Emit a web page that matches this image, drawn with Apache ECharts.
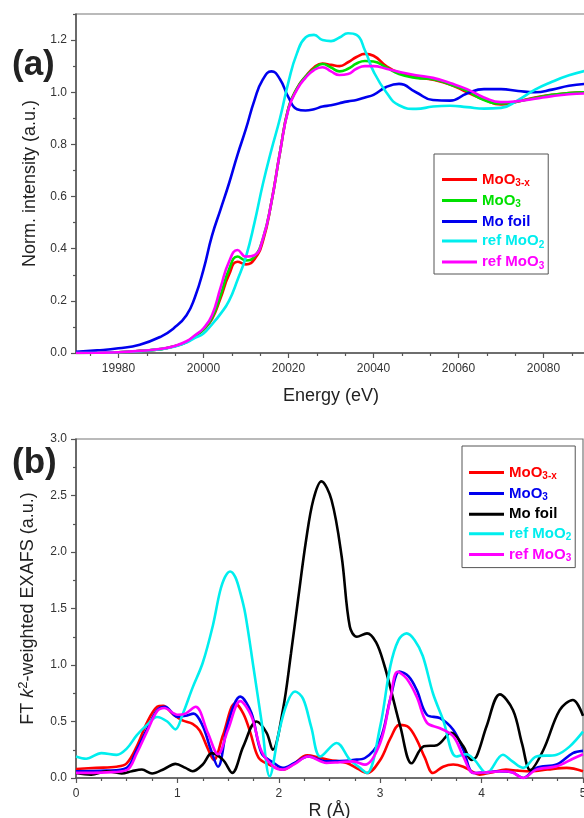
<!DOCTYPE html>
<html>
<head>
<meta charset="utf-8">
<script src="https://cdn.jsdelivr.net/npm/echarts@6/dist/echarts.min.js"></script>
<style>
html, body { margin: 0; padding: 0; background: #fff; }
#chart { width: 584px; height: 818px; }
</style>
</head>
<body>
<div id="chart"></div>
<script>
// ---- (a) XANES, all curves on one energy grid ----
var energy = [19970, 19975, 19980, 19985, 19990, 19993, 19996, 19998, 20000, 20002, 20004, 20006, 20008, 20010, 20012, 20014, 20016, 20018, 20020, 20022, 20024, 20026, 20028, 20030, 20032, 20034, 20036, 20038, 20040, 20043, 20046, 20050, 20054, 20058, 20062, 20066, 20070, 20074, 20078, 20082, 20086, 20090];
var xanesMoO3x = [0.0, 0.001, 0.003, 0.008, 0.015, 0.025, 0.042, 0.065, 0.09, 0.13, 0.21, 0.30, 0.35, 0.34, 0.36, 0.43, 0.58, 0.77, 0.94, 1.015, 1.06, 1.095, 1.11, 1.105, 1.10, 1.115, 1.135, 1.147, 1.14, 1.10, 1.075, 1.058, 1.048, 1.03, 1.00, 0.972, 0.953, 0.965, 0.98, 0.99, 0.997, 1.0];
var xanesMoO3 = [0.0, 0.001, 0.003, 0.008, 0.015, 0.025, 0.042, 0.065, 0.09, 0.135, 0.22, 0.32, 0.37, 0.355, 0.37, 0.44, 0.58, 0.77, 0.94, 1.015, 1.06, 1.09, 1.108, 1.095, 1.08, 1.09, 1.11, 1.12, 1.118, 1.095, 1.07, 1.055, 1.05, 1.03, 1.005, 0.97, 0.957, 0.965, 0.978, 0.99, 0.997, 1.0];
var xanesMoFoil = [0.005, 0.010, 0.018, 0.032, 0.063, 0.095, 0.145, 0.215, 0.32, 0.45, 0.55, 0.65, 0.76, 0.86, 0.97, 1.05, 1.08, 1.05, 0.98, 0.935, 0.930, 0.935, 0.945, 0.950, 0.958, 0.965, 0.970, 0.980, 0.990, 1.020, 1.032, 1.000, 0.970, 0.968, 0.995, 1.012, 1.012, 1.005, 1.000, 1.010, 1.025, 1.032];
var xanesRefMoO2 = [0.0, 0.001, 0.003, 0.007, 0.015, 0.024, 0.04, 0.058, 0.075, 0.11, 0.15, 0.20, 0.28, 0.37, 0.50, 0.65, 0.78, 0.90, 1.04, 1.15, 1.21, 1.22, 1.20, 1.196, 1.21, 1.226, 1.22, 1.16, 1.08, 1.0, 0.95, 0.936, 0.945, 0.948, 0.943, 0.937, 0.94, 0.97, 1.01, 1.04, 1.065, 1.083];
var xanesRefMoO3 = [0.0, 0.001, 0.003, 0.008, 0.016, 0.026, 0.045, 0.068, 0.095, 0.145, 0.25, 0.35, 0.395, 0.37, 0.375, 0.44, 0.58, 0.77, 0.935, 1.01, 1.055, 1.085, 1.096, 1.08, 1.066, 1.07, 1.09, 1.10, 1.10, 1.09, 1.078, 1.065, 1.055, 1.035, 1.012, 0.98, 0.962, 0.966, 0.975, 0.985, 0.992, 0.995];

// ---- (b) FT-EXAFS, each curve read on its own R points ----
var rMoO3x = [0, 0.2, 0.4, 0.5, 0.6, 0.7, 0.8, 0.86, 0.95, 1.05, 1.15, 1.22, 1.3, 1.36, 1.45, 1.57, 1.65, 1.72, 1.8, 1.9, 2.04, 2.14, 2.28, 2.4, 2.5, 2.67, 2.78, 2.87, 3.0, 3.1, 3.19, 3.28, 3.36, 3.44, 3.52, 3.62, 3.72, 3.82, 3.9, 3.98, 4.1, 4.24, 4.36, 4.5, 4.65, 4.84, 5.0];
var ftMoO3x = [0.08, 0.09, 0.10, 0.13, 0.28, 0.49, 0.63, 0.64, 0.57, 0.51, 0.48, 0.42, 0.26, 0.16, 0.38, 0.66, 0.57, 0.40, 0.18, 0.12, 0.074, 0.12, 0.20, 0.18, 0.16, 0.133, 0.08, 0.044, 0.16, 0.35, 0.47, 0.45, 0.34, 0.18, 0.044, 0.10, 0.12, 0.10, 0.06, 0.03, 0.05, 0.074, 0.065, 0.06, 0.075, 0.09, 0.06];
var rMoO3 = [0, 0.3, 0.5, 0.6, 0.7, 0.8, 0.88, 1.0, 1.08, 1.16, 1.25, 1.33, 1.4, 1.5, 1.62, 1.73, 1.83, 1.95, 2.04, 2.15, 2.29, 2.47, 2.6, 2.73, 2.85, 3.0, 3.1, 3.19, 3.28, 3.36, 3.46, 3.59, 3.72, 3.82, 3.92, 4.05, 4.15, 4.3, 4.41, 4.54, 4.74, 4.9, 5.0];
var ftMoO3 = [0.06, 0.065, 0.09, 0.25, 0.43, 0.60, 0.63, 0.54, 0.55, 0.57, 0.46, 0.25, 0.10, 0.49, 0.72, 0.575, 0.22, 0.133, 0.09, 0.13, 0.19, 0.147, 0.15, 0.16, 0.177, 0.34, 0.70, 0.943, 0.90, 0.78, 0.56, 0.53, 0.427, 0.25, 0.044, 0.05, 0.06, 0.05, 0.0, 0.09, 0.12, 0.22, 0.24];
var rMoFoil = [0, 0.15, 0.3, 0.45, 0.55, 0.65, 0.75, 0.87, 0.98, 1.08, 1.15, 1.25, 1.34, 1.45, 1.54, 1.65, 1.78, 1.88, 1.94, 2.04, 2.12, 2.19, 2.27, 2.34, 2.42, 2.52, 2.62, 2.7, 2.77, 2.87, 2.96, 3.04, 3.1, 3.2, 3.31, 3.43, 3.56, 3.7, 3.82, 3.9, 3.95, 4.05, 4.18, 4.31, 4.4, 4.48, 4.61, 4.77, 4.9, 5.0];
var ftMoFoil = [0.045, 0.03, 0.06, 0.04, 0.06, 0.075, 0.04, 0.08, 0.125, 0.09, 0.06, 0.12, 0.22, 0.16, 0.045, 0.28, 0.50, 0.40, 0.25, 0.60, 1.1, 1.58, 2.11, 2.46, 2.625, 2.46, 1.96, 1.34, 1.25, 1.28, 1.2, 1.0, 0.80, 0.45, 0.13, 0.28, 0.29, 0.40, 0.28, 0.16, 0.19, 0.46, 0.74, 0.60, 0.30, 0.07, 0.25, 0.60, 0.69, 0.55];
var rRefMoO2 = [0, 0.1, 0.25, 0.4, 0.5, 0.6, 0.7, 0.8, 0.9, 0.98, 1.05, 1.15, 1.25, 1.35, 1.42, 1.47, 1.52, 1.57, 1.62, 1.67, 1.75, 1.83, 1.91, 2.0, 2.08, 2.16, 2.24, 2.32, 2.41, 2.57, 2.7, 2.8, 2.87, 3.0, 3.1, 3.18, 3.26, 3.34, 3.42, 3.52, 3.62, 3.75, 3.85, 3.93, 4.05, 4.21, 4.3, 4.41, 4.54, 4.74, 4.87, 5.0];
var ftRefMoO2 = [0.19, 0.17, 0.22, 0.205, 0.26, 0.38, 0.47, 0.54, 0.50, 0.43, 0.56, 0.80, 1.02, 1.35, 1.65, 1.78, 1.828, 1.78, 1.64, 1.45, 0.98, 0.50, 0.015, 0.40, 0.66, 0.766, 0.70, 0.45, 0.19, 0.31, 0.162, 0.09, 0.044, 0.457, 0.99, 1.22, 1.28, 1.22, 1.08, 0.75, 0.516, 0.19, 0.21, 0.16, 0.044, 0.206, 0.15, 0.09, 0.19, 0.206, 0.28, 0.41];
var rRefMoO3 = [0, 0.3, 0.5, 0.6, 0.7, 0.8, 0.87, 1.0, 1.08, 1.18, 1.3, 1.4, 1.5, 1.62, 1.73, 1.83, 1.95, 2.04, 2.15, 2.29, 2.47, 2.6, 2.73, 2.85, 3.0, 3.1, 3.17, 3.26, 3.36, 3.46, 3.59, 3.72, 3.82, 3.92, 4.05, 4.2, 4.3, 4.41, 4.54, 4.74, 4.9, 5.0];
var ftRefMoO3 = [0.045, 0.05, 0.07, 0.22, 0.41, 0.59, 0.62, 0.56, 0.57, 0.63, 0.40, 0.21, 0.43, 0.68, 0.546, 0.236, 0.10, 0.074, 0.12, 0.19, 0.133, 0.14, 0.147, 0.118, 0.31, 0.70, 0.94, 0.88, 0.72, 0.49, 0.44, 0.37, 0.19, 0.044, 0.05, 0.06, 0.05, 0.0, 0.074, 0.103, 0.17, 0.21];

// tick labels
var energyTicks = [19980, 20000, 20020, 20040, 20060, 20080];
var intensityTicks = [0, 0.2, 0.4, 0.6, 0.8, 1.0, 1.2];
var rTicks = [0, 1, 2, 3, 4, 5];
var ftTicks = [0, 0.5, 1.0, 1.5, 2.0, 2.5, 3.0];

var FONT = 'Arial, "Liberation Sans", sans-serif';
var colors = { r: '#ff0000', g: '#00e000', b: '#0000ee', k: '#000000', c: '#00eeee', m: '#ff00ff' };

// legend labels with subscripts
var legendText = {
    'a1': '{r|MoO}{rs|3-x}', 'a2': '{g|MoO}{gs|3}', 'a3': '{b|Mo foil}', 'a4': '{c|ref MoO}{cs|2}', 'a5': '{m|ref MoO}{ms|3}',
    'b1': '{r|MoO}{rs|3-x}', 'b2': '{b|MoO}{bs|3}', 'b3': '{k|Mo foil}', 'b4': '{c|ref MoO}{cs|2}', 'b5': '{m|ref MoO}{ms|3}'
};
var rich = {};
Object.keys(colors).forEach(function (k) {
    rich[k] = { color: colors[k], fontSize: 15, fontWeight: 'bold', fontFamily: FONT, lineHeight: 18 };
    rich[k + 's'] = { color: colors[k], fontSize: 10, fontWeight: 'bold', fontFamily: FONT, lineHeight: 8, verticalAlign: 'bottom' };
});

function pairs(xs, ys) {
    return xs.map(function (x, i) { return [x, ys[i]]; });
}

function line(name, color, data, idx, smooth) {
    return {
        name: name, type: 'line', data: data, xAxisIndex: idx, yAxisIndex: idx,
        showSymbol: false, symbol: 'none', smooth: smooth, color: color,
        lineStyle: { color: color, width: 2.6 }, itemStyle: { color: color }
    };
}

function axis(idx, min, max, extra) {
    var a = {
        type: 'value', gridIndex: idx, min: min, max: max,
        axisLine: { show: true, lineStyle: { color: '#555', width: 1.5 } },
        axisTick: { show: true, length: 5, lineStyle: { color: '#555', width: 1.2 } },
        minorTick: { show: true, length: 3, lineStyle: { color: '#555', width: 1.2 } },
        splitLine: { show: false },
        axisLabel: { color: '#333', fontSize: 12, fontFamily: FONT },
        nameLocation: 'middle',
        nameTextStyle: { color: '#222', fontSize: 18, fontFamily: FONT }
    };
    return echarts.util.merge(a, extra, true);
}

var chart = echarts.init(document.getElementById('chart'));

var option = {
    animation: false,
    backgroundColor: '#fff',
    title: [
        { text: '(a)', left: 12, top: 48, padding: 0, textStyle: { fontSize: 35, fontWeight: 'bold', color: '#222', fontFamily: FONT } },
        { text: '(b)', left: 12, top: 446, padding: 0, textStyle: { fontSize: 35, fontWeight: 'bold', color: '#222', fontFamily: FONT } }
    ],
    grid: [
        { left: 76, top: 14, right: -2, height: 339, show: true, borderColor: '#777', borderWidth: 1.2, outerBoundsMode: 'none', containLabel: false },
        { left: 76, top: 439, right: 1, height: 339, show: true, borderColor: '#777', borderWidth: 1.2, outerBoundsMode: 'none', containLabel: false }
    ],
    xAxis: [
        axis(0, 19970, 20090, {
            splitNumber: 6, name: 'Energy (eV)', nameGap: 34,
            axisLabel: { customValues: energyTicks, margin: 10, formatter: function (v) { return String(v); } },
            axisTick: { customValues: energyTicks },
            minorTick: { splitNumber: 3 }
        }),
        axis(1, 0, 5, {
            interval: 1, name: 'R (Å)', nameGap: 24,
            axisLabel: { customValues: rTicks, margin: 10 },
            axisTick: { customValues: rTicks },
            minorTick: { splitNumber: 4 }
        })
    ],
    yAxis: [
        axis(0, 0, 1.3, {
            interval: 0.2, name: 'Norm. intensity (a.u.)', nameGap: 36,
            axisLabel: { customValues: intensityTicks, margin: 9, formatter: function (v) { return v.toFixed(1); } },
            axisTick: { customValues: intensityTicks },
            minorTick: { splitNumber: 2 }
        }),
        axis(1, 0, 3, {
            interval: 0.5, name: '{n|FT }{i|k}{sup|2}{n|-weighted EXAFS (a.u.)}', nameGap: 37,
            nameTextStyle: {
                rich: {
                    n: { fontSize: 18, fontFamily: FONT, color: '#222', lineHeight: 22 },
                    i: { fontSize: 18, fontFamily: FONT, color: '#222', fontStyle: 'italic', lineHeight: 22 },
                    sup: { fontSize: 13, fontFamily: FONT, color: '#222', lineHeight: 10, verticalAlign: 'top' }
                }
            },
            axisLabel: { customValues: ftTicks, margin: 9, formatter: function (v) { return v.toFixed(1); } },
            axisTick: { customValues: ftTicks },
            minorTick: { splitNumber: 2 }
        })
    ],
    legend: [
        {
            orient: 'vertical', left: 434, top: 154, padding: [18, 4, 3, 8], itemGap: 4.5,
            itemWidth: 35, itemHeight: 3, icon: 'rect', selectedMode: false,
            borderColor: '#555', borderWidth: 1,
            data: ['a1', 'a2', 'a3', 'a4', 'a5'],
            formatter: function (n) { return legendText[n]; },
            textStyle: { rich: rich }
        },
        {
            orient: 'vertical', left: 462, top: 446, padding: [19, 4, 4, 7], itemGap: 4.4,
            itemWidth: 35, itemHeight: 3, icon: 'rect', selectedMode: false,
            borderColor: '#555', borderWidth: 1,
            data: ['b1', 'b2', 'b3', 'b4', 'b5'],
            formatter: function (n) { return legendText[n]; },
            textStyle: { rich: rich }
        }
    ],
    series: [
        line('a1', colors.r, pairs(energy, xanesMoO3x), 0, 0.5),
        line('a2', colors.g, pairs(energy, xanesMoO3), 0, 0.5),
        line('a3', colors.b, pairs(energy, xanesMoFoil), 0, 0.5),
        line('a4', colors.c, pairs(energy, xanesRefMoO2), 0, 0.5),
        line('a5', colors.m, pairs(energy, xanesRefMoO3), 0, 0.5),
        line('b1', colors.r, pairs(rMoO3x, ftMoO3x), 1, 0.35),
        line('b2', colors.b, pairs(rMoO3, ftMoO3), 1, 0.35),
        line('b3', colors.k, pairs(rMoFoil, ftMoFoil), 1, 0.35),
        line('b4', colors.c, pairs(rRefMoO2, ftRefMoO2), 1, 0.35),
        line('b5', colors.m, pairs(rRefMoO3, ftRefMoO3), 1, 0.35)
    ]
};
chart.setOption(option);
</script>
</body>
</html>
